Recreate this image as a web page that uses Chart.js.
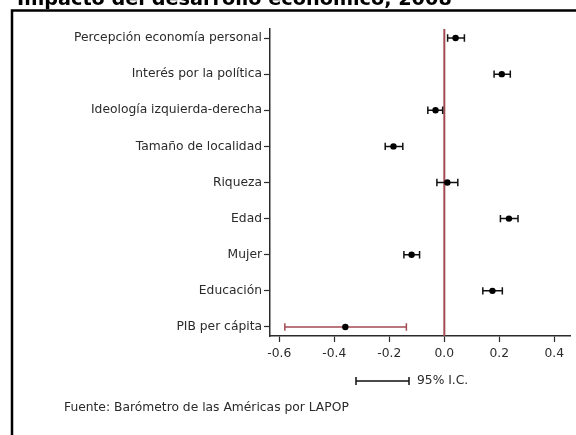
<!DOCTYPE html>
<html>
<head>
<meta charset="utf-8">
<script src="https://cdn.jsdelivr.net/npm/chart.js@4.4.1/dist/chart.umd.min.js"></script>
<style>
  html, body { margin: 0; padding: 0; background: #ffffff; }
  #wrap { width: 576px; height: 435px; position: relative; }
</style>
</head>
<body>
<div id="wrap"><canvas id="c" width="576" height="435"></canvas></div>
<script>
const titleText = "Impacto del desarrollo económico, 2008";
const footerText = "Fuente: Barómetro de las Américas por LAPOP";
const legendText = "95% I.C.";

const categories = [
  "Percepción economía personal",
  "Interés por la política",
  "Ideología izquierda-derecha",
  "Tamaño de localidad",
  "Riqueza",
  "Edad",
  "Mujer",
  "Educación",
  "PIB per cápita"
];
const estimates = [0.041, 0.209, -0.032, -0.185, 0.011, 0.235, -0.119, 0.175, -0.360];
const ciLow     = [0.012, 0.181, -0.060, -0.215, -0.027, 0.204, -0.147, 0.140, -0.580];
const ciHigh    = [0.073, 0.240, -0.006, -0.151, 0.049, 0.268, -0.090, 0.211, -0.138];
const xTicks = [-0.6, -0.4, -0.2, 0.0, 0.2, 0.4];
const highlighted = ["PIB per cápita"];

const FONT = "'DejaVu Sans', Verdana, sans-serif";
const FSIZE = 12.3;
const RED = "#a24a52";
const INK = "#2b2b2b";

const ciSets = categories.map((c, i) => ({
  type: 'line',
  label: 'ci-' + c,
  data: [{x: ciLow[i], y: i}, {x: ciHigh[i], y: i}],
  borderColor: highlighted.includes(c) ? RED : '#111111',
  backgroundColor: highlighted.includes(c) ? RED : '#111111',
  borderWidth: 1.5,
  showLine: true,
  pointStyle: 'line',
  rotation: 90,
  pointRadius: 3.7,
  pointBorderWidth: 1.5,
  pointHoverRadius: 3.7,
  order: 2
}));

const refLine = {
  type: 'line',
  label: 'ref',
  data: [{x: 0, y: -0.25}, {x: 0, y: categories.length - 0.75}],
  borderColor: RED,
  borderWidth: 2,
  pointRadius: 0,
  showLine: true,
  order: 3
};

const dots = {
  type: 'scatter',
  label: 'coef',
  data: estimates.map((v, i) => ({x: v, y: i})),
  backgroundColor: '#000000',
  borderColor: '#000000',
  pointRadius: 3.2,
  borderWidth: 0,
  order: 1
};

const decor = {
  id: 'decor',
  beforeDraw(chart) {
    const ctx = chart.ctx;
    ctx.save();
    ctx.fillStyle = '#ffffff';
    ctx.fillRect(0, 0, chart.width, chart.height);
    ctx.strokeStyle = '#000000';
    ctx.lineWidth = 2.5;
    ctx.strokeRect(12, 10.5, 700, 600);
    ctx.fillStyle = '#000000';
    ctx.font = "bold 100px " + FONT;
    const w100 = ctx.measureText(titleText).width;
    const size = 100 * 435 / w100;
    ctx.font = "bold " + size.toFixed(2) + "px " + FONT;
    ctx.textBaseline = 'alphabetic';
    ctx.textAlign = 'left';
    ctx.fillText(titleText, 17, 4.5);
    ctx.restore();
  },
  afterDraw(chart) {
    const ctx = chart.ctx;
    ctx.save();
    const ly = 381;
    ctx.strokeStyle = '#111111';
    ctx.lineWidth = 1.5;
    ctx.beginPath();
    ctx.moveTo(356, ly); ctx.lineTo(409, ly);
    ctx.moveTo(356, ly - 4); ctx.lineTo(356, ly + 4);
    ctx.moveTo(409, ly - 4); ctx.lineTo(409, ly + 4);
    ctx.stroke();
    ctx.fillStyle = INK;
    ctx.font = FSIZE + "px " + FONT;
    ctx.textBaseline = 'middle';
    ctx.textAlign = 'left';
    ctx.fillText(legendText, 417, ly);
    ctx.fillText(footerText, 64, 408);
    ctx.restore();
  }
};

new Chart(document.getElementById('c'), {
  data: { datasets: [...ciSets, dots, refLine] },
  options: {
    responsive: false,
    animation: false,
    events: [],
    layout: { padding: { top: 29, left: 0, right: 0, bottom: 0 } },
    plugins: { legend: { display: false }, tooltip: { enabled: false }, title: { display: false } },
    scales: {
      x: {
        type: 'linear',
        min: -0.634,
        max: 0.46,
        afterFit(scale) { scale.height = 99; },
        afterBuildTicks(scale) { scale.ticks = xTicks.map(v => ({ value: v })); },
        grid: { display: true, drawOnChartArea: false, drawTicks: true, tickLength: 6, tickWidth: 1.2, tickColor: INK },
        border: { display: true, color: INK, width: 1.5 },
        ticks: {
          color: INK,
          font: { family: FONT, size: FSIZE },
          padding: 4,
          maxRotation: 0,
          callback: (v) => Number(v).toFixed(1)
        }
      },
      y: {
        type: 'linear',
        reverse: true,
        min: -0.25,
        max: categories.length - 0.75,
        afterFit(scale) { scale.width = 270; },
        afterBuildTicks(scale) { scale.ticks = categories.map((c, i) => ({ value: i })); },
        grid: { display: true, drawOnChartArea: false, drawTicks: true, tickLength: 6, tickWidth: 1.2, tickColor: INK },
        border: { display: true, color: INK, width: 1.5 },
        ticks: {
          color: INK,
          font: { family: FONT, size: FSIZE },
          padding: 2,
          autoSkip: false,
          callback: (v) => categories[Math.round(v)] ?? ''
        }
      }
    }
  },
  plugins: [decor]
});
</script>
</body>
</html>
